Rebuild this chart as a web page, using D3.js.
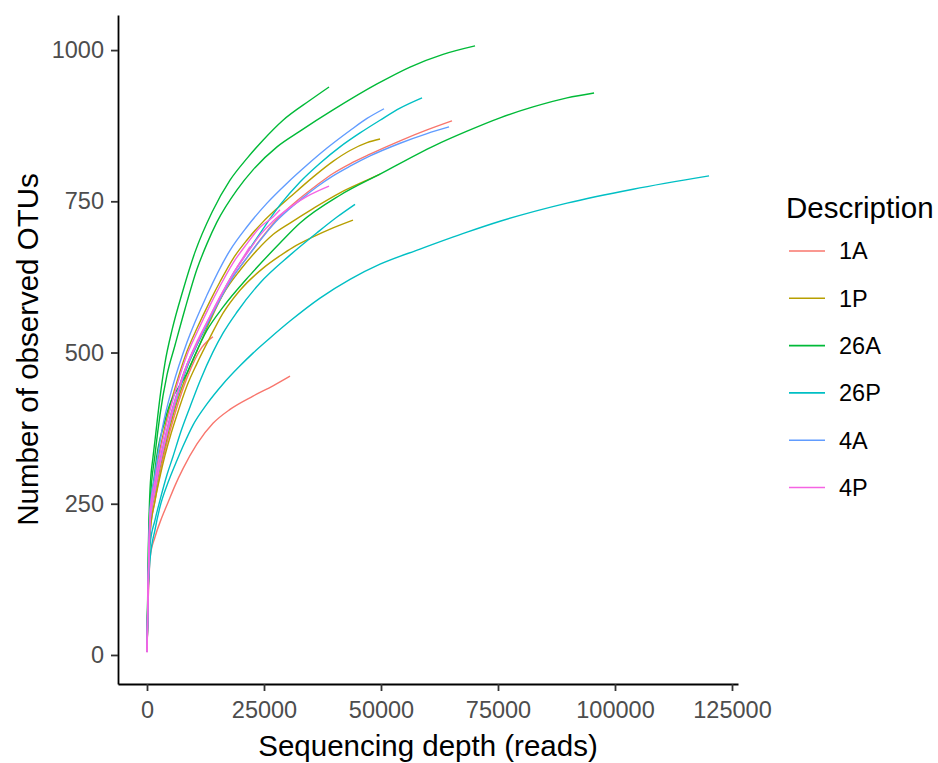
<!DOCTYPE html>
<html>
<head>
<meta charset="utf-8">
<script src="https://cdn.jsdelivr.net/npm/d3@7"></script>
<style>
  html, body { margin: 0; padding: 0; background: #fff; }
  svg { display: block; font-family: 'Liberation Sans', Arial, sans-serif; }
</style>
</head>
<body>
<svg id="chart" width="938" height="763"></svg>
<script>
// ── Data: rarefaction curves, [depth, observed OTUs] ──
const descriptions = ['1A', '1P', '26A', '26P', '4A', '4P'];
const palette      = ['#F8766D', '#B79F00', '#00BA38', '#00BFC4', '#619CFF', '#F564E3'];
const xTicks = [0, 25000, 50000, 75000, 100000, 125000];
const yTicks = [0, 250, 500, 750, 1000];

// 1A
const s1A_a = [[10,6],[214,104],[427,172],[641,228],[1710,280],[2778,322],[3847,358],[4915,392],[6410,432],[8547,480],[10684,515],[13462,557],[15600,588],[18378,625],[21370,657],[24150,686],[27500,718],[32696,755],[36329,777],[39748,796],[43381,812],[47656,828],[54067,850],[59837,868],[65170,883]];
const s1A_b = [[10,5],[214,80],[427,125],[641,160],[1710,195],[3206,228],[4488,252],[5983,280],[7693,308],[10684,349],[14104,383],[17737,406],[22652,428],[26926,445],[30559,461]];
const s1A_c = [[10,5],[214,95],[427,150],[641,200],[1710,255],[2778,300],[3847,338],[4915,370],[6410,410],[8547,458],[11750,509],[14104,526]];
// 1P
const s1P_a = [[10,8],[214,115],[427,182],[641,240],[1710,295],[2778,340],[3847,378],[4915,412],[6410,452],[8547,502],[10684,540],[13462,585],[15600,617],[18378,655],[21370,686],[24790,716],[27780,738],[30559,757],[35475,790],[39748,816],[43381,834],[47015,847],[49792,853]];
const s1P_b = [[10,5],[214,100],[427,160],[641,215],[1710,268],[2778,310],[3847,345],[4915,378],[6410,418],[8547,465],[10684,503],[13462,552],[16241,596],[19874,636],[23500,669],[26926,695],[30559,714],[35475,738],[41245,764],[47015,785],[49792,795]];
const s1P_c = [[10,5],[214,95],[427,150],[641,200],[1710,255],[2778,295],[3847,330],[4915,360],[6410,397],[8547,445],[10684,482],[13462,525],[16241,565],[19874,603],[25210,642],[28422,660],[31200,674],[35475,691],[39748,706],[44020,719]];
// 26A
const s26A_a = [[10,25],[320,190],[641,273],[1282,327],[1710,355],[2778,426],[3847,483],[5342,537],[7693,603],[10258,666],[13890,732],[17737,785],[21370,821],[24789,851],[29063,884],[34833,917],[38893,939]];
const s26A_b = [[10,20],[320,175],[641,248],[1710,331],[2778,397],[4274,463],[5983,512],[8120,572],[10684,638],[12821,680],[14959,716],[19233,769],[22652,802],[27781,840],[32696,866],[39748,901],[49150,944],[56202,972],[63254,993],[70094,1007]];
const s26A_c = [[10,8],[214,110],[641,207],[1710,306],[3847,388],[8547,466],[12821,537],[16241,575],[22011,628],[28422,681],[32696,714],[41245,760],[49792,795],[61116,841],[68384,866],[75434,888],[82486,906],[89752,921],[95522,929]];
// 26P
const s26P_a = [[10,5],[214,90],[641,157],[1710,207],[2778,245],[4488,285],[6411,322],[7693,345],[9830,380],[12821,415],[16241,448],[19874,478],[22652,499],[26285,524],[30559,552],[36970,590],[43381,621],[49792,646],[58340,671],[68384,699],[75434,717],[89752,747],[103856,770],[120098,792]];
const s26P_b = [[10,5],[214,95],[641,182],[1710,223],[2778,256],[4274,298],[5556,328],[7052,365],[9189,410],[11326,453],[14104,501],[16241,532],[19233,567],[24149,615],[30559,661],[36329,698],[40603,724],[44450,745]];
const s26P_c = [[10,5],[214,100],[427,165],[641,220],[1710,272],[2778,315],[3847,352],[4915,385],[6410,425],[8547,475],[10684,512],[13462,556],[15600,590],[18378,630],[21370,665],[24150,697],[28422,744],[32696,782],[36970,813],[41245,840],[45519,863],[49792,884],[54067,904],[58768,921]];
// 4A
const s4A_a = [[10,8],[214,120],[427,190],[641,240],[1710,298],[3206,372],[5556,446],[8547,517],[12821,595],[17737,669],[21370,708],[25645,747],[29919,780],[34193,810],[38467,838],[43381,867],[47015,887],[50648,903]];
const s4A_b = [[10,6],[214,105],[427,170],[641,228],[1710,280],[2778,322],[3847,358],[4915,392],[6410,432],[8547,480],[10684,515],[13462,557],[15600,588],[18378,625],[21370,657],[24150,685],[27500,716],[32696,752],[36329,774],[39748,792],[43381,808],[47656,825],[54067,846],[59837,862],[64538,873]];
// 4P
const s4P_a = [[10,5],[214,100],[427,165],[641,222],[1710,275],[2778,318],[3847,356],[4915,390],[6410,430],[8547,480],[10684,518],[13462,560],[15600,592],[18378,630],[21370,664],[24150,694],[26920,717],[30559,740],[34193,758],[38893,775]];
const s4P_b = [[10,6],[214,110],[427,178],[641,236],[1710,288],[2778,333],[3847,371],[4915,404],[6410,446],[8547,496],[10684,533],[13462,578],[15600,610],[18378,648],[21370,680],[24150,707],[26920,724],[28422,736]];
const s4P_c = [[10,4],[214,95],[427,160],[641,218],[1710,272],[2778,315],[3847,352],[4915,386],[6410,428],[8547,478],[10684,515],[13462,560],[15600,592],[18378,630],[22011,675]];

// samples in ggplot draw order (grouped by description)
const samples = [
  { desc: '1A',  pts: s1A_a }, { desc: '1A',  pts: s1A_b }, { desc: '1A',  pts: s1A_c },
  { desc: '1P',  pts: s1P_a }, { desc: '1P',  pts: s1P_b }, { desc: '1P',  pts: s1P_c },
  { desc: '26A', pts: s26A_a }, { desc: '26A', pts: s26A_b }, { desc: '26A', pts: s26A_c },
  { desc: '26P', pts: s26P_a }, { desc: '26P', pts: s26P_b }, { desc: '26P', pts: s26P_c },
  { desc: '4A',  pts: s4A_a }, { desc: '4A',  pts: s4A_b },
  { desc: '4P',  pts: s4P_a }, { desc: '4P',  pts: s4P_b }, { desc: '4P',  pts: s4P_c },
];

// ── Layout ───────────────────────────────────────────
const panel = { left: 118, right: 738, top: 15, bottom: 684 };
const svg = d3.select('#chart');
svg.append('rect').attr('width', 938).attr('height', 763).attr('fill', '#fff');

const color = d3.scaleOrdinal().domain(descriptions).range(palette);
const x = d3.scaleLinear().domain([-6197, 126283]).range([panel.left, panel.right]);
const y = d3.scaleLinear().domain([-48, 1058]).range([panel.bottom, panel.top]);

// ── Curves ───────────────────────────────────────────
const line = d3.line().x(d => x(d[0])).y(d => y(d[1])).curve(d3.curveMonotoneX);
svg.append('g').selectAll('path').data(samples).join('path')
  .attr('d', d => line(d.pts))
  .attr('fill', 'none')
  .attr('stroke', d => color(d.desc))
  .attr('stroke-width', 1.4)
  .attr('stroke-linejoin', 'round');

// ── Axes ─────────────────────────────────────────────
const xAxis = svg.append('g').attr('transform', `translate(0,${panel.bottom})`)
  .call(d3.axisBottom(x).tickValues(xTicks).tickFormat(d3.format('d')).tickSize(7).tickSizeOuter(0).tickPadding(10));
const yAxis = svg.append('g').attr('transform', `translate(${panel.left},0)`)
  .call(d3.axisLeft(y).tickValues(yTicks).tickFormat(d3.format('d')).tickSize(7).tickSizeOuter(0).tickPadding(7));

[xAxis, yAxis].forEach(a => {
  a.select('.domain').attr('stroke', '#000').attr('stroke-width', 1.8);
  a.selectAll('.tick line').attr('stroke', '#333').attr('stroke-width', 1.8);
  a.selectAll('.tick text').attr('fill', '#4D4D4D').attr('font-size', '23.5px')
    .attr('font-family', "'Liberation Sans', Arial, sans-serif");
});

svg.append('text')
  .attr('x', (panel.left + panel.right) / 2).attr('y', 756)
  .attr('text-anchor', 'middle').attr('font-size', '29.5px').attr('fill', '#000')
  .text('Sequencing depth (reads)');

svg.append('text')
  .attr('transform', `translate(38,${(panel.top + panel.bottom) / 2}) rotate(-90)`)
  .attr('text-anchor', 'middle').attr('font-size', '29.5px').attr('fill', '#000')
  .text('Number of observed OTUs');

// ── Legend ───────────────────────────────────────────
const leg = svg.append('g').attr('transform', 'translate(786,0)');
leg.append('text').attr('x', 0).attr('y', 218)
  .attr('font-size', '29.5px').attr('fill', '#000').text('Description');
const rows = leg.selectAll('g.row').data(descriptions).join('g')
  .attr('class', 'row')
  .attr('transform', (d, i) => `translate(0,${251 + i * 47.3})`);
rows.append('line').attr('x1', 3).attr('x2', 39).attr('y1', 0).attr('y2', 0)
  .attr('stroke', d => color(d)).attr('stroke-width', 1.6);
rows.append('text').attr('x', 53).attr('y', 0).attr('dy', '0.36em')
  .attr('font-size', '23.5px').attr('fill', '#000').text(d => d);
</script>
</body>
</html>
